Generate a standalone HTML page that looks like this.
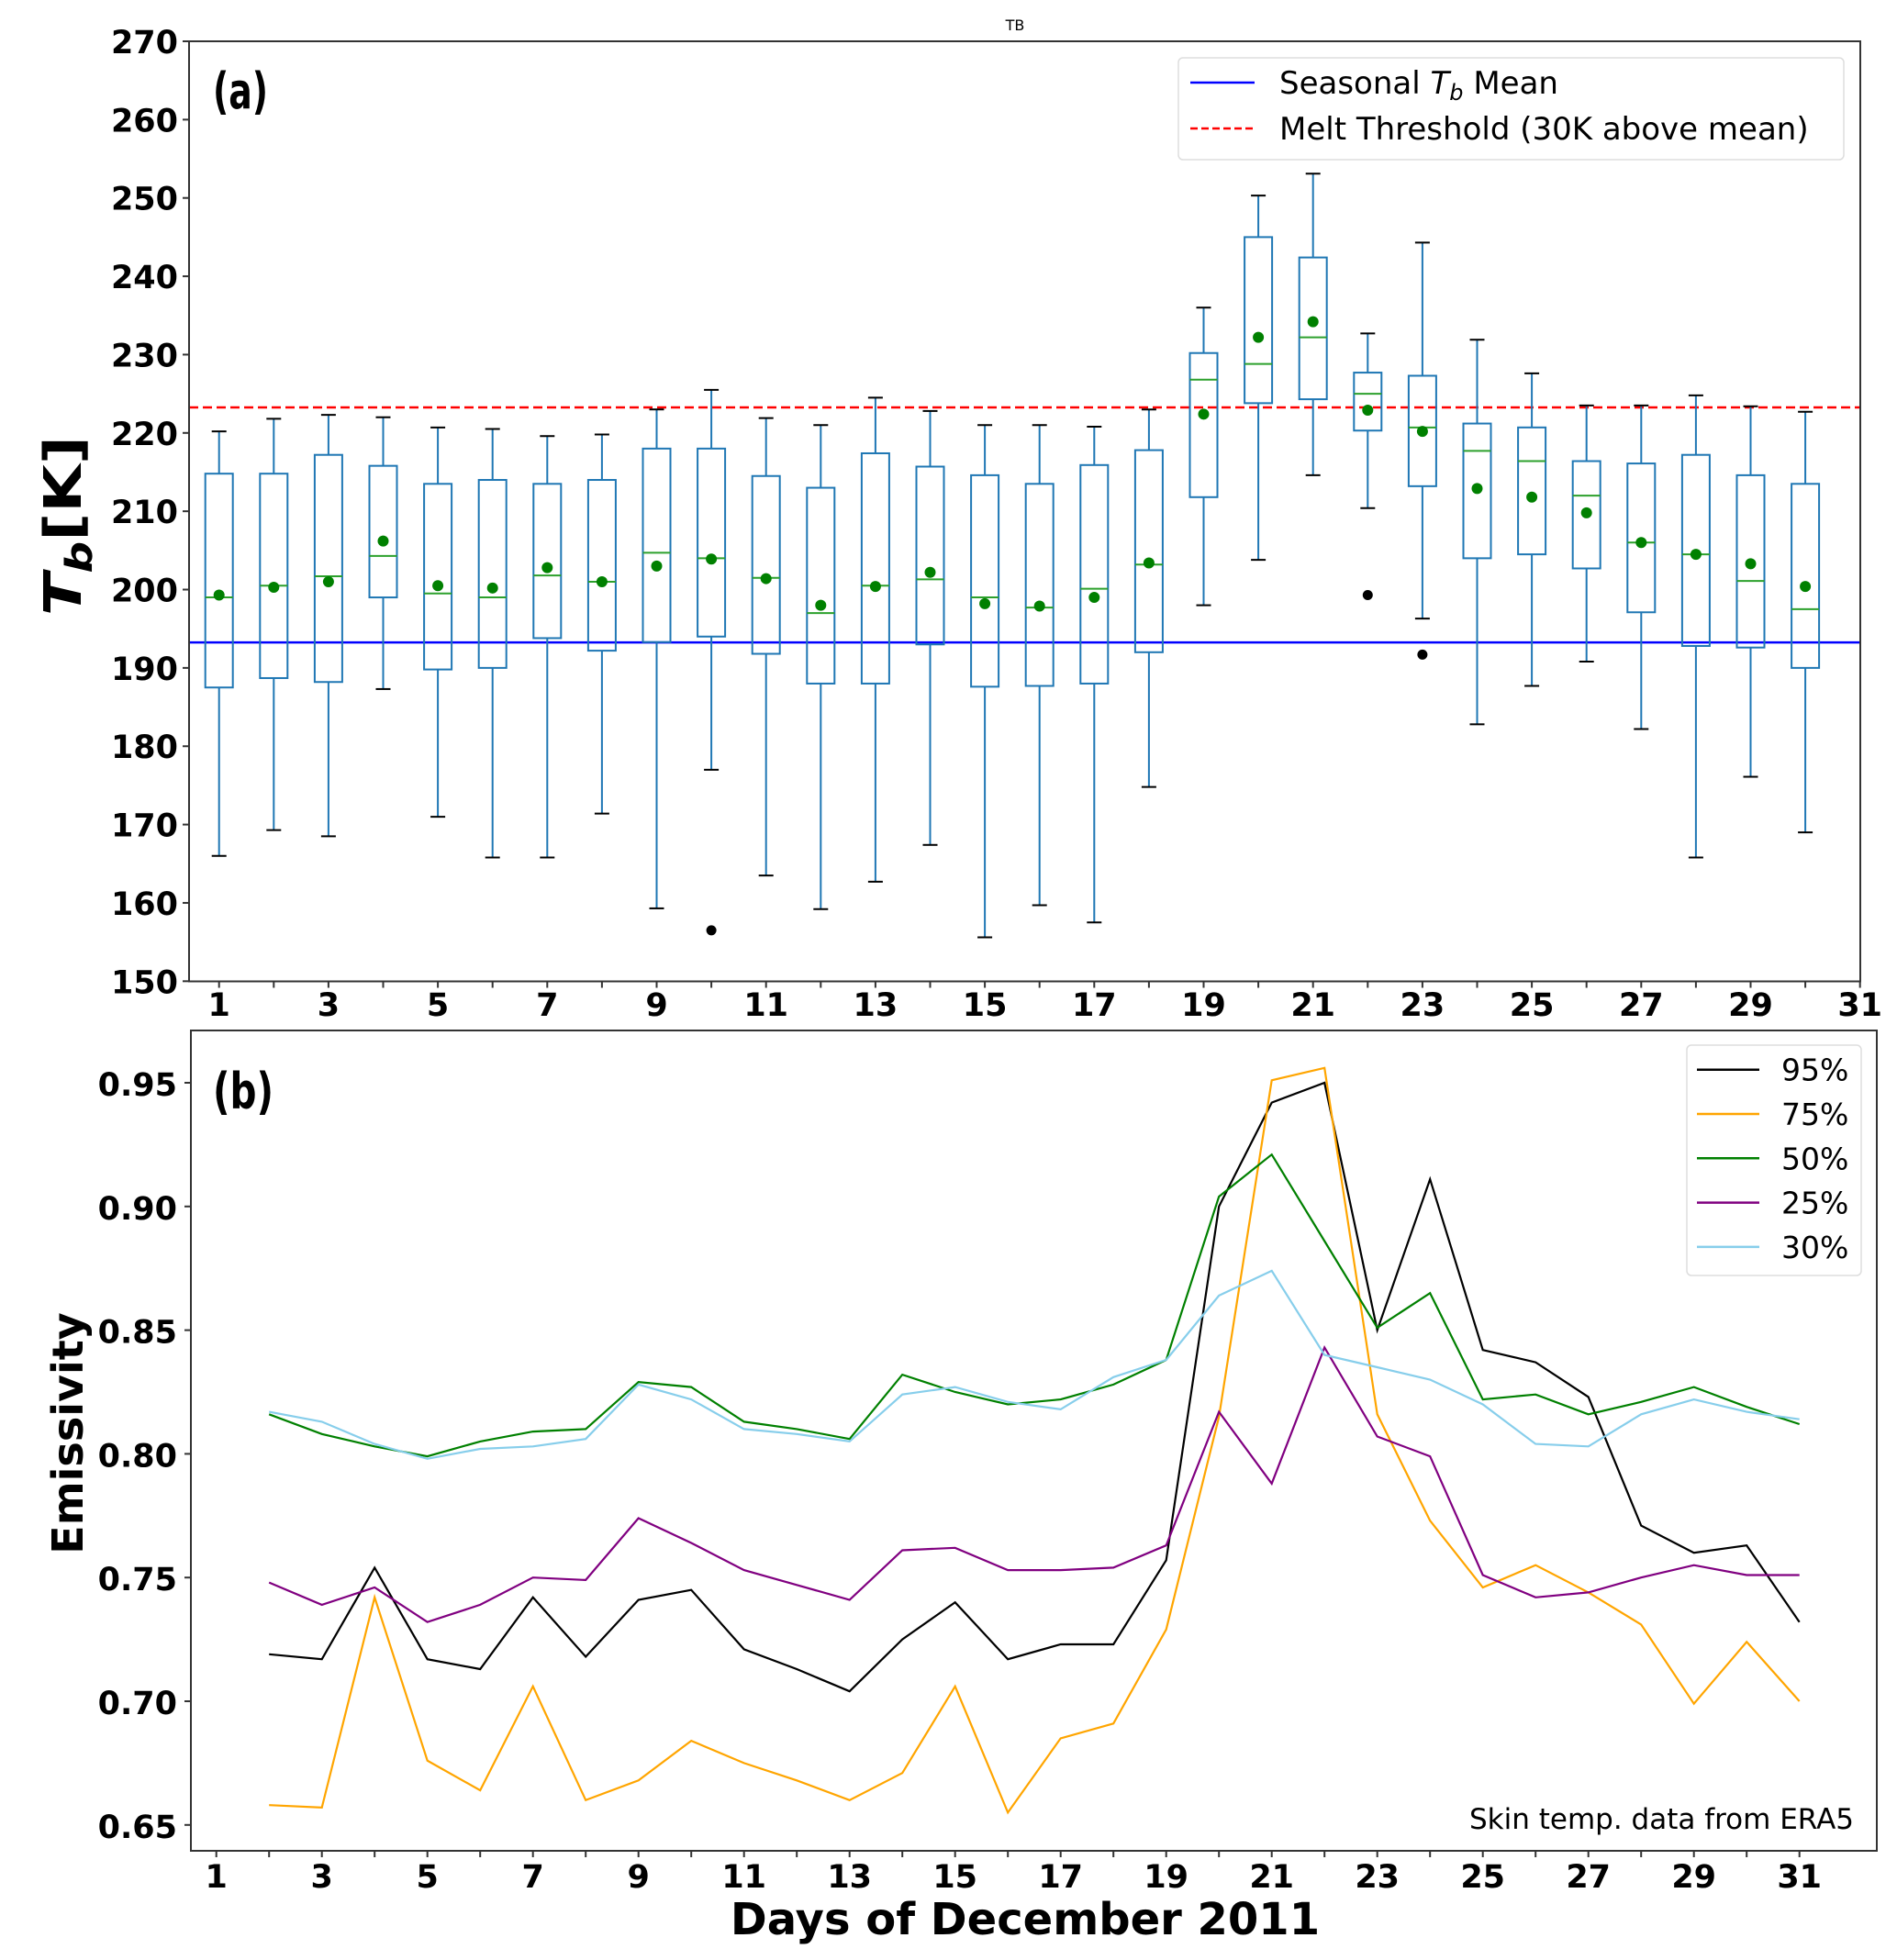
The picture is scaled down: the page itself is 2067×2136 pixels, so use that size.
<!DOCTYPE html>
<html><head><meta charset="utf-8"><style>
html,body{margin:0;padding:0;background:#fff;}
svg{display:block;font-family:"DejaVu Sans","Liberation Sans",sans-serif;}
</style></head><body>
<svg id="fig" width="2067" height="2136" viewBox="0 0 2067 2136" xmlns="http://www.w3.org/2000/svg">
<rect width="2067" height="2136" fill="#fff"/>
<g id="topPanel"></g>
<g id="botPanel"></g>
</svg>
<script>
// ---- Panel (a) data ----
const days = [1,2,3,4,5,6,7,8,9,10,11,12,13,14,15,16,17,18,19,20,21,22,23,24,25,26,27,28,29,30];
const whiskerLow = [166,169.3,168.5,187.3,171,165.8,165.8,171.4,159.3,177,163.5,159.2,162.7,167.4,155.6,159.7,157.5,174.8,198,203.8,214.6,210.4,196.3,182.8,187.7,190.8,182.2,165.8,176.1,169];
const q1 = [187.5,188.7,188.2,199,189.8,190,193.8,192.2,193.3,194,191.8,188,188,193,187.6,187.7,188,192,211.8,223.8,224.3,220.3,213.2,204,204.5,202.7,197.1,192.8,192.6,190];
const medians = [199,200.5,201.7,204.3,199.5,199,201.8,201,204.7,204,201.5,197,200.5,201.3,199,197.7,200.1,203.2,226.8,228.8,232.2,225,220.7,217.7,216.4,212,206,204.5,201.1,197.5];
const q3 = [214.8,214.8,217.2,215.8,213.5,214,213.5,214,218,218,214.5,213,217.4,215.7,214.6,213.5,215.9,217.8,230.2,245,242.4,227.7,227.3,221.2,220.7,216.4,216.1,217.2,214.6,213.5];
const whiskerHigh = [220.2,221.8,222.3,222,220.7,220.5,219.6,219.8,223,225.5,221.9,221,224.5,222.8,221,221,220.8,223,236,250.3,253.1,232.7,244.3,231.9,227.6,223.5,223.5,224.8,223.4,222.7];
const means = [199.3,200.3,201,206.2,200.5,200.2,202.8,201,203,203.9,201.4,198,200.4,202.2,198.2,197.9,199,203.4,222.4,232.2,234.2,222.9,220.2,212.9,211.8,209.8,206,204.5,203.3,200.4];
const outlierDays = [10,22,23];
const outlierVals = [156.5,199.3,191.7];
const seasonalMean = 193.25;
const meltThreshold = 223.25;
const topYTicks = [150,160,170,180,190,200,210,220,230,240,250,260,270];
const topXTicks = [1,3,5,7,9,11,13,15,17,19,21,23,25,27,29,31];

// ---- Panel (b) data ----
const emisDays = [2,3,4,5,6,7,8,9,10,11,12,13,14,15,16,17,18,19,20,21,22,23,24,25,26,27,28,29,30,31];
const p95 = [.719,.717,.754,.717,.713,.742,.718,.741,.745,.721,.713,.704,.725,.740,.717,.723,.723,.757,.900,.942,.950,.850,.911,.842,.837,.823,.771,.760,.763,.732];
const p75 = [.658,.657,.742,.676,.664,.706,.660,.668,.684,.675,.668,.660,.671,.706,.655,.685,.691,.729,.815,.951,.956,.816,.773,.746,.755,.744,.731,.699,.724,.700];
const p50 = [.816,.808,.803,.799,.805,.809,.810,.829,.827,.813,.810,.806,.832,.825,.820,.822,.828,.838,.904,.921,.886,.851,.865,.822,.824,.816,.821,.827,.819,.812];
const p25 = [.748,.739,.746,.732,.739,.750,.749,.774,.764,.753,.747,.741,.761,.762,.753,.753,.754,.763,.817,.788,.843,.807,.799,.751,.742,.744,.750,.755,.751,.751];
const p30 = [.817,.813,.804,.798,.802,.803,.806,.828,.822,.810,.808,.805,.824,.827,.821,.818,.831,.838,.864,.874,.840,.835,.830,.820,.804,.803,.816,.822,.817,.814];
const seriesLabels = ['95%','75%','50%','25%','30%'];
const botYTicks = [0.65,0.70,0.75,0.80,0.85,0.90,0.95];
const botXTicks = [1,3,5,7,9,11,13,15,17,19,21,23,25,27,29,31];

const NS='http://www.w3.org/2000/svg';
function mk(parent,tag,attrs,text){const e=document.createElementNS(NS,tag);for(const k in attrs)e.setAttribute(k,attrs[k]);if(text!==undefined)e.textContent=text;parent.appendChild(e);return e;}

const A={l:206,r:2027,t:45,b:1069.5};
const ax=d=>238.7+(d-1)*59.6;
const ay=v=>45+(270-v)*8.536;
const topG=document.getElementById('topPanel');
let e;
e=mk(topG,'text',{x:1106,y:33,'font-size':16,'text-anchor':'middle'},'TB');


e=mk(topG,'line',{x1:A.l,x2:A.r,y1:ay(seasonalMean),y2:ay(seasonalMean),stroke:'#0000ff','stroke-width':2.5});


e=mk(topG,'line',{x1:A.l,x2:A.r,y1:ay(meltThreshold),y2:ay(meltThreshold),stroke:'#ff0000','stroke-width':2.5,'stroke-dasharray':'10,5'});


const BW=15, CW=8;
days.forEach((d,i)=>{
  const x=ax(d);
  const g=mk(topG,'g',{});
  
  
  mk(g,'line',{x1:x,x2:x,y1:ay(q3[i]),y2:ay(whiskerHigh[i]),stroke:'#1f77b4','stroke-width':2});
  mk(g,'line',{x1:x,x2:x,y1:ay(q1[i]),y2:ay(whiskerLow[i]),stroke:'#1f77b4','stroke-width':2});
  mk(g,'line',{x1:x-CW,x2:x+CW,y1:ay(whiskerHigh[i]),y2:ay(whiskerHigh[i]),stroke:'#000','stroke-width':2});
  mk(g,'line',{x1:x-CW,x2:x+CW,y1:ay(whiskerLow[i]),y2:ay(whiskerLow[i]),stroke:'#000','stroke-width':2});
  mk(g,'rect',{x:x-BW,y:ay(q3[i]),width:2*BW,height:ay(q1[i])-ay(q3[i]),fill:'none',stroke:'#1f77b4','stroke-width':2});
  mk(g,'line',{x1:x-BW,x2:x+BW,y1:ay(medians[i]),y2:ay(medians[i]),stroke:'#2ca02c','stroke-width':2});
  mk(g,'circle',{cx:x,cy:ay(means[i]),r:6,fill:'#008000'});
});
outlierDays.forEach((d,i)=>{
  e=mk(topG,'circle',{cx:ax(d),cy:ay(outlierVals[i]),r:5.5,fill:'#000'});
  
  
});
e=mk(topG,'rect',{x:A.l,y:A.t,width:A.r-A.l,height:A.b-A.t,fill:'none',stroke:'#333','stroke-width':2});


topYTicks.forEach(v=>{
  mk(topG,'line',{x1:A.l-7,x2:A.l,y1:ay(v),y2:ay(v),stroke:'#333','stroke-width':2});
  e=mk(topG,'text',{x:194,y:ay(v)+13,'font-size':35,'font-weight':'bold','text-anchor':'end'},String(v));
  
  
});
for(let d=1;d<=31;d++){mk(topG,'line',{x1:ax(d),x2:ax(d),y1:A.b,y2:A.b+7,stroke:'#333','stroke-width':2});}
topXTicks.forEach(d=>{
  e=mk(topG,'text',{x:ax(d),y:1107,'font-size':35,'font-weight':'bold','text-anchor':'middle'},String(d));
  
  
});
e=mk(topG,'text',{x:232,y:118,'font-size':54,'font-weight':'bold','textLength':60,'lengthAdjust':'spacingAndGlyphs'},'(a)');


e=mk(topG,'text',{transform:'translate(88,573) rotate(-90)','font-size':56,'font-weight':'bold','text-anchor':'middle','textLength':196,'lengthAdjust':'spacingAndGlyphs'});


mk(e,'tspan',{'font-style':'italic'},'T');
mk(e,'tspan',{'font-style':'italic','font-size':40,dy:12},'b');
mk(e,'tspan',{dy:-12},'[K]');
const lg=mk(topG,'g',{});


mk(lg,'rect',{x:1284,y:63,width:725,height:111,rx:5,fill:'#fff',stroke:'#ddd','stroke-width':1.5});
mk(lg,'line',{x1:1297,x2:1367,y1:90,y2:90,stroke:'#0000ff','stroke-width':2.5});
mk(lg,'line',{x1:1297,x2:1367,y1:140,y2:140,stroke:'#ff0000','stroke-width':2.5,'stroke-dasharray':'8,4'});
e=mk(lg,'text',{x:1394,y:102,'font-size':34});


mk(e,'tspan',{},'Seasonal ');
mk(e,'tspan',{'font-style':'italic'},'T');
mk(e,'tspan',{'font-style':'italic','font-size':24,dy:7},'b');
mk(e,'tspan',{dy:-7},' Mean');
e=mk(lg,'text',{x:1394,y:152,'font-size':34},'Melt Threshold (30K above mean)');



// Panel (b)
const B={l:208,r:2045,t:1123,b:2017};
const bx=d=>235.7+(d-1)*57.5;
const by=v=>1180+(0.95-v)/0.05*134.8;
const botG=document.getElementById('botPanel');
const series=[p95,p75,p50,p25,p30];
const colors=['#000000','#ffa500','#008000','#800080','#87ceeb'];
series.forEach((s,k)=>{
  const pts=s.map((v,i)=>bx(emisDays[i]).toFixed(1)+','+by(v).toFixed(1)).join(' ');
  e=mk(botG,'polyline',{points:pts,fill:'none',stroke:colors[k],'stroke-width':2.2});
  
  
});
e=mk(botG,'rect',{x:B.l,y:B.t,width:B.r-B.l,height:B.b-B.t,fill:'none',stroke:'#333','stroke-width':2});


botYTicks.forEach(v=>{
  mk(botG,'line',{x1:B.l-7,x2:B.l,y1:by(v),y2:by(v),stroke:'#333','stroke-width':2});
  e=mk(botG,'text',{x:193,y:by(v)+14,'font-size':35,'font-weight':'bold','text-anchor':'end'},v.toFixed(2));
  
  
});
for(let d=1;d<=31;d++){mk(botG,'line',{x1:bx(d),x2:bx(d),y1:B.b,y2:B.b+7,stroke:'#333','stroke-width':2});}
botXTicks.forEach(d=>{
  e=mk(botG,'text',{x:bx(d),y:2057,'font-size':35,'font-weight':'bold','text-anchor':'middle'},String(d));
  
  
});
e=mk(botG,'text',{x:232,y:1208,'font-size':54,'font-weight':'bold','textLength':66,'lengthAdjust':'spacingAndGlyphs'},'(b)');


e=mk(botG,'text',{transform:'translate(90,1562) rotate(-90)','font-size':46,'font-weight':'bold','text-anchor':'middle'},'Emissivity');


e=mk(botG,'text',{x:1117,y:2108,'font-size':48,'font-weight':'bold','text-anchor':'middle'},'Days of December 2011');


e=mk(botG,'text',{x:2020,y:1993,'font-size':31,'text-anchor':'end'},'Skin temp. data from ERA5');


const lb=mk(botG,'g',{});


mk(lb,'rect',{x:1838,y:1139,width:190,height:251,rx:5,fill:'#fff',stroke:'#ddd','stroke-width':1.5});
seriesLabels.forEach((lab,k)=>{
  const yy=1165.7+k*48.3;
  mk(lb,'line',{x1:1849,x2:1917,y1:yy,y2:yy,stroke:colors[k],'stroke-width':2.5});
  e=mk(lb,'text',{x:1941,y:yy+12,'font-size':33},lab);
  
  
});
</script>
</body></html>
